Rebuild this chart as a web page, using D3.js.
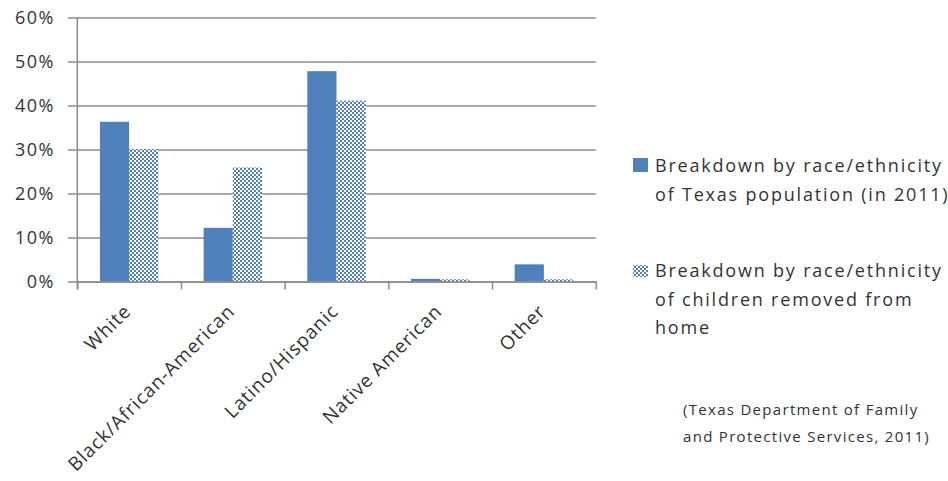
<!DOCTYPE html>
<html><head><meta charset="utf-8">
<script src="https://cdn.jsdelivr.net/npm/d3@7"></script>
<style>body{margin:0;background:#fff}svg{display:block}text{font-family:"Open Sans",sans-serif;fill:#333}</style>
</head><body><svg id="c" width="948" height="481"></svg>
<script>
const categories = ["White","Black/African-American","Latino/Hispanic","Native American","Other"];
const seriesNames = ["Breakdown by race/ethnicity of Texas population (in 2011)","Breakdown by race/ethnicity of children removed from home"];
const texasPopulation = [0.363, 0.122, 0.478, 0.006, 0.039];
const childrenRemoved = [0.301, 0.259, 0.411, 0.005, 0.005];
const yTicks = [0,0.1,0.2,0.3,0.4,0.5,0.6];
const legendLines = [["Breakdown by race/ethnicity","of Texas population (in 2011)"],["Breakdown by race/ethnicity","of children removed from","home"]];
const sourceLines = ["(Texas Department of Family","and Protective Services, 2011)"];

const svg = d3.select("#c");
const defs = svg.append("defs");
const pat = defs.append("pattern").attr("id","chk").attr("patternUnits","userSpaceOnUse").attr("width",4).attr("height",4);
pat.append("rect").attr("width",4).attr("height",4).attr("fill","#fff");
pat.append("rect").attr("width",2).attr("height",2).attr("fill","#4F81BD");
pat.append("rect").attr("x",2).attr("y",2).attr("width",2).attr("height",2).attr("fill","#4F81BD");

const L=77.3, R=595.7, T=17.5, B=281.5;
const x = d3.scaleBand().domain(categories).range([L,R]).paddingInner(0.437).paddingOuter(0.2185);
const xs = d3.scaleBand().domain([0,1]).range([0,x.bandwidth()]);
const y = d3.scaleLinear().domain([0,0.6]).range([B,T]);
const grid = "#8c8c8c";

// gridlines + y labels
const ya = svg.append("g").attr("transform","translate(68,0)")
  .call(d3.axisLeft(y).tickValues(yTicks).tickFormat(d3.format(".0%")).tickSizeInner(-(R-68)).tickSizeOuter(0).tickPadding(13));
ya.select(".domain").remove();
ya.selectAll(".tick line").attr("stroke",grid).attr("stroke-width",1.5);
ya.selectAll(".tick text").style("font-size","18px").style("letter-spacing","1.5px").style("font-family","Open Sans").attr("fill","#333");

// bars
const data = categories.map((c,i)=>({c, v:[texasPopulation[i], childrenRemoved[i]]}));
const g = svg.append("g");
data.forEach(d=>{
  d.v.forEach((v,j)=>{
    g.append("rect").attr("x",x(d.c)+xs(j)).attr("width",xs.bandwidth())
      .attr("y",y(v)).attr("height",y(0)-y(v))
      .attr("fill", j===0 ? "#4F81BD" : "url(#chk)");
  });
});

// x axis with ticks between categories
const xb = d3.scaleLinear().domain([0,categories.length]).range([L,R]);
const xa = svg.append("g").attr("transform",`translate(0,${B})`)
  .call(d3.axisBottom(xb).tickValues(d3.range(categories.length+1)).tickFormat("").tickSizeInner(8).tickSizeOuter(0));
xa.select(".domain").attr("stroke",grid).attr("stroke-width",1.5);
xa.selectAll(".tick line").attr("stroke",grid).attr("stroke-width",1.5);
svg.append("line").attr("x1",L).attr("x2",L).attr("y1",T).attr("y2",B+8).attr("stroke",grid).attr("stroke-width",1.5);

// category labels
categories.forEach(c=>{
  const cx = x(c)+x.bandwidth()/2 + 3;
  svg.append("text").attr("transform",`translate(${cx},${B+31}) rotate(-45)`)
    .attr("text-anchor","end").style("font-size","19px").style("letter-spacing","0.9px").text(c);
});

// legend
const lg = svg.append("g");
lg.append("rect").attr("x",633).attr("y",158).attr("width",15).attr("height",14).attr("fill","#4F81BD");
lg.append("rect").attr("x",633).attr("y",265).attr("width",15).attr("height",12).attr("fill","url(#chk)");
const lgY=[172,277];
legendLines.forEach((lines,i)=>{
  lines.forEach((t,k)=>{
    lg.append("text").attr("x",655).attr("y",lgY[i]+k*28.5).style("font-size","18px").style("letter-spacing","1.8px").text(t);
  });
});
sourceLines.forEach((t,k)=>{
  svg.append("text").attr("x",683).attr("y",415+k*27).style("font-size","15px").style("letter-spacing","1.3px").text(t);
});
</script></body></html>
